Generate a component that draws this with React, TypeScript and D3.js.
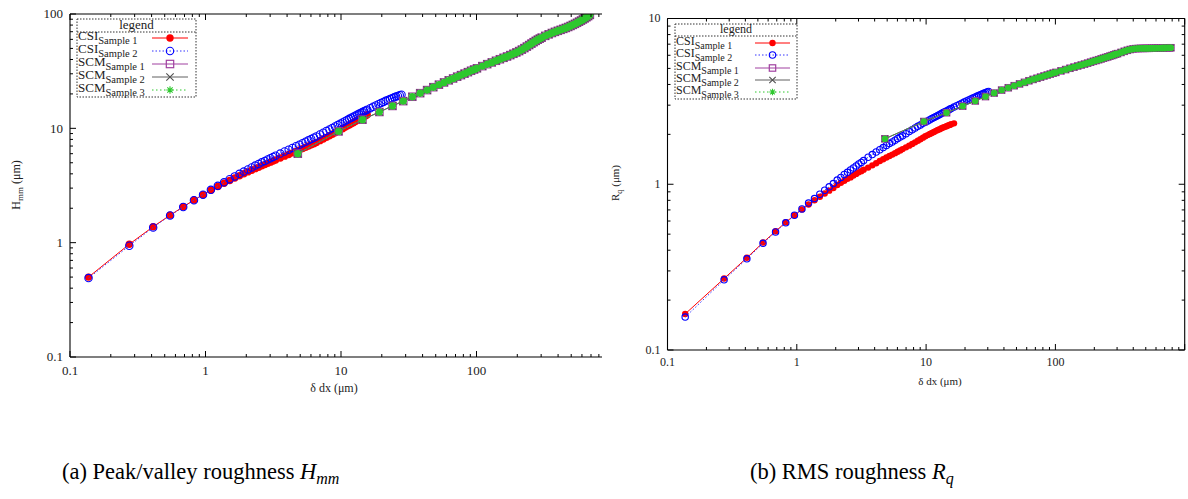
import React from 'react';
import * as d3 from 'd3';

// ---------- DATA ----------
const csiX = [
  0.137, 0.274, 0.411, 0.548, 0.685, 0.822, 0.959, 1.096, 1.233, 1.37,
  1.507, 1.644, 1.781, 1.918, 2.055, 2.192, 2.329, 2.466, 2.603, 2.74,
  2.877, 3.014, 3.151, 3.288,
  3.562, 3.836, 4.11, 4.384, 4.658, 4.932, 5.206, 5.48, 5.754, 6.028, 6.302, 6.576,
  6.987, 7.398, 7.809, 8.22, 8.631, 9.042, 9.453, 9.864, 10.275, 10.686, 11.097, 11.508,
  11.919, 12.33, 12.741, 13.152, 13.563, 13.974, 14.385, 14.796, 15.207, 15.618,
  16.44, 17.262, 18.084, 18.906, 19.728, 20.55, 21.372, 22.194, 23.016, 23.838, 24.66,
  25.482, 26.304, 27.126, 27.948,
  28.77, 29.592, 30.414,
];

const hmmCsi1 = [
  0.50, 0.97, 1.38, 1.74, 2.06, 2.36, 2.63, 2.88, 3.10, 3.31,
  3.50, 3.68, 3.85, 4.01, 4.16, 4.30, 4.44, 4.57, 4.70, 4.82,
  4.94, 5.06, 5.17, 5.28,
  5.50, 5.71, 5.91, 6.10, 6.29, 6.47, 6.65, 6.83, 7.00, 7.17, 7.34, 7.50,
  7.80, 8.07, 8.34, 8.61, 8.88, 9.15, 9.42, 9.68, 9.94, 10.20, 10.46, 10.71,
  10.96, 11.21, 11.46, 11.70, 11.94, 12.18, 12.42, 12.66, 12.90, 13.14,
];

const hmmCsi2 = [
  0.49, 0.94, 1.36, 1.73, 2.05, 2.35, 2.63, 2.90, 3.14, 3.37,
  3.59, 3.80, 4.00, 4.19, 4.37, 4.55, 4.72, 4.88, 5.04, 5.19,
  5.34, 5.48, 5.62, 5.76,
  6.02, 6.27, 6.51, 6.74, 6.97, 7.19, 7.41, 7.64, 7.85, 8.07, 8.28, 8.49,
  8.85, 9.17, 9.48, 9.79, 10.09, 10.39, 10.69, 10.98, 11.27, 11.55, 11.83, 12.10,
  12.37, 12.63, 12.89, 13.14, 13.39, 13.63, 13.87, 14.11, 14.34, 14.57,
  15.02, 15.45, 15.87, 16.27, 16.66, 17.03, 17.39, 17.73, 18.06, 18.37, 18.67,
  18.95, 19.22, 19.47, 19.70,
];

const rqCsi1 = [
  0.165, 0.27, 0.36, 0.445, 0.52, 0.59, 0.65, 0.705, 0.755, 0.80,
  0.84, 0.88, 0.915, 0.95, 0.99, 1.02, 1.05, 1.08, 1.10, 1.13,
  1.155, 1.18, 1.20, 1.225,
  1.26, 1.30, 1.34, 1.38, 1.415, 1.45, 1.48, 1.51, 1.54, 1.57, 1.60, 1.63,
  1.67, 1.71, 1.75, 1.79, 1.83, 1.87, 1.91, 1.95, 1.98, 2.01, 2.04, 2.07,
  2.10, 2.125, 2.15, 2.175, 2.20, 2.22, 2.24, 2.26, 2.28, 2.30,
  2.33,
];

const rqCsi2 = [
  0.158, 0.265, 0.355, 0.44, 0.515, 0.585, 0.65, 0.71, 0.77, 0.82,
  0.87, 0.92, 0.965, 1.01, 1.06, 1.10, 1.145, 1.18, 1.22, 1.255,
  1.29, 1.325, 1.355, 1.39,
  1.455, 1.51, 1.565, 1.615, 1.665, 1.715, 1.76, 1.80, 1.845, 1.885, 1.925, 1.96,
  2.02, 2.08, 2.135, 2.185, 2.235, 2.28, 2.33, 2.37, 2.41, 2.45, 2.49, 2.53,
  2.565, 2.60, 2.635, 2.67, 2.705, 2.74, 2.77, 2.80, 2.83, 2.86,
  2.92, 2.975, 3.03, 3.08, 3.13, 3.18, 3.225, 3.27, 3.31, 3.35, 3.39,
  3.43, 3.465, 3.50, 3.535,
  3.57, 3.60, 3.63,
];

const scmX = [
  4.8, 9.6, 14.4, 19.2, 24, 28.8, 33.6, 38.4, 43.2, 48, 52.8, 57.6, 62.4, 67.2, 72, 76.8,
  81.6, 86.4, 91.2, 96, 100.8,
  110.4, 120, 129.6, 139.2, 148.8, 158.4, 168, 177.6, 187.2, 196.8, 206.4, 216, 225.6,
  235.2, 244.8, 254.4, 264, 273.6, 283.2, 292.8, 302.4,
  321.6, 340.8, 360, 379.2, 398.4, 417.6, 436.8, 456, 475.2, 494.4, 513.6, 532.8, 552,
  571.2, 590.4, 609.6, 628.8, 648, 667.2, 686.4, 705.6, 724.8, 744, 763.2, 782.4,
];

const hmmScm = [
  6.0, 9.4, 11.9, 13.9, 15.7, 17.3, 18.9, 20.3, 21.6, 22.9, 24.1, 25.2, 26.3, 27.3, 28.3, 29.2,
  30.1, 31.0, 31.9, 32.7, 33.5,
  35.0, 36.4, 37.7, 39.0, 40.2, 41.4, 42.5, 43.7, 44.9, 46.1, 47.4, 48.8, 50.3,
  51.9, 53.5, 55.1, 56.7, 58.2, 59.6, 60.9, 62.1,
  64.4, 66.4, 68.2, 69.8, 71.3, 72.7, 74.1, 75.5, 77.0, 78.6, 80.3, 82.0, 83.8,
  85.7, 87.6, 89.6, 91.6, 93.7, 95.9, 98.2,
];

const rqScm = [
  1.88, 2.39, 2.70, 2.96, 3.18, 3.38, 3.55, 3.70, 3.82, 3.93, 4.03, 4.12, 4.21, 4.29, 4.36, 4.43,
  4.50, 4.56, 4.62, 4.68, 4.73,
  4.83, 4.92, 5.01, 5.09, 5.17, 5.24, 5.31, 5.38, 5.45, 5.52, 5.58, 5.64, 5.70,
  5.76, 5.82, 5.87, 5.93, 5.98, 6.04, 6.09, 6.14,
  6.24, 6.34, 6.43, 6.50, 6.55, 6.58, 6.59, 6.60, 6.60, 6.61, 6.61, 6.61, 6.62,
  6.62, 6.62, 6.63, 6.63, 6.63, 6.64, 6.64, 6.64, 6.65, 6.65, 6.65, 6.66,
];

const xMajorTicks = [0.1, 1, 10, 100];
const hmmMajorTicks = [0.1, 1, 10, 100];
const rqMajorTicks = [0.1, 1, 10];

const legendNames = [
  ['CSI', 'Sample 1'],
  ['CSI', 'Sample 2'],
  ['SCM', 'Sample 1'],
  ['SCM', 'Sample 2'],
  ['SCM', 'Sample 3'],
];

// ---------- STYLES ----------
const FONT = "'Liberation Serif', 'Times New Roman', Times, serif";
const styles = [
  { color: '#ff0000', line: '#ff0000', dash: undefined, marker: 'circleFilled' },
  { color: '#0000ff', line: '#3333ff', dash: '1.5,2', marker: 'circleOpen' },
  { color: '#a040a0', line: '#a040a0', dash: undefined, marker: 'square' },
  { color: '#505050', line: '#606060', dash: undefined, marker: 'cross' },
  { color: '#2ec82e', line: '#2ec82e', dash: '1.5,2.5', marker: 'star' },
];

type Pt = [number, number];

function Marker({ kind, cx, cy, s, color, thin }: { kind: string; cx: number; cy: number; s: number; color: string; thin?: boolean }) {
  if (kind === 'circleFilled') return <circle cx={cx} cy={cy} r={s} fill={color} />;
  if (kind === 'circleOpen')
    return <circle cx={cx} cy={cy} r={s} fill="none" stroke={color} strokeWidth={1.1} />;
  if (kind === 'square')
    return <rect x={cx - s} y={cy - s} width={2 * s} height={2 * s} fill="none" stroke={color} strokeWidth={1.2} />;
  if (kind === 'cross')
    return (
      <path
        d={`M${cx - s},${cy - s}L${cx + s},${cy + s}M${cx - s},${cy + s}L${cx + s},${cy - s}`}
        stroke={color}
        strokeWidth={1.1}
        fill="none"
      />
    );
  const d = s * 0.72;
  return (
    <path
      d={`M${cx - s},${cy}L${cx + s},${cy}M${cx},${cy - s}L${cx},${cy + s}M${cx - d},${cy - d}L${cx + d},${cy + d}M${cx - d},${cy + d}L${cx + d},${cy - d}`}
      stroke={color}
      strokeWidth={thin ? 1.1 : 2.2}
      fill="none"
    />
  );
}

type ChartCfg = {
  id: string;
  x0: number;
  x1: number;
  y0: number;
  y1: number;
  yDomain: [number, number];
  yMajor: number[];
  cropRight: number;
  showRight: boolean;
  tickFont: number;
  labelFont: number;
  ms: number;
  series: { xs: number[]; ys: number[] }[];
  yLabelMain: string;
  yLabelSub: string;
  yLabelX: number;
  yLabelY: number;
  xLabelX: number;
  xLabelY: number;
  xTickY: number;
  legend: { x0: number; x1: number; y0: number; y1: number; sep: number; titleY: number; rows: number[]; lx0: number; lx1: number; font: number; sub: number };
};

function Chart({ cfg }: { cfg: ChartCfg }) {
  const x = d3.scaleLog().domain([0.1, 1000]).range([cfg.x0, cfg.x1]);
  const y = d3.scaleLog().domain(cfg.yDomain).range([cfg.y0, cfg.y1]);
  const xTicks = x.ticks();
  const yTicks = y.ticks();
  const isMajor = (v: number) => Math.abs(Math.log10(v) - Math.round(Math.log10(v))) < 1e-6;
  const right = Math.min(cfg.x1, cfg.cropRight);
  const line = d3
    .line<Pt>()
    .x((d) => x(d[0]))
    .y((d) => y(d[1]));
  const L = cfg.legend;
  const fontStyle = { fontFamily: FONT };

  return (
    <g>
      <defs>
        <clipPath id={`crop-${cfg.id}`}>
          <rect x={0} y={0} width={cfg.cropRight} height={499} />
        </clipPath>
        <clipPath id={`plot-${cfg.id}`}>
          <rect x={cfg.x0} y={cfg.y1} width={right - cfg.x0} height={cfg.y0 - cfg.y1} />
        </clipPath>
      </defs>
      <g clipPath={`url(#crop-${cfg.id})`}>
        {/* data */}
        <g clipPath={`url(#plot-${cfg.id})`}>
          {cfg.series.map((s, i) => {
            const pts: Pt[] = s.ys.map((v, j) => [s.xs[j], v]);
            const st = styles[i];
            return (
              <g key={i}>
                <path d={line(pts) || ''} fill="none" stroke={st.line} strokeWidth={1} strokeDasharray={st.dash} />
                {pts.map((p, j) => (
                  <Marker key={j} kind={st.marker} cx={x(p[0])} cy={y(p[1])} s={cfg.ms} color={st.color} />
                ))}
              </g>
            );
          })}
        </g>
        {/* frame */}
        <g stroke="#000" strokeWidth={1.1} fill="none">
          <line x1={cfg.x0} x2={cfg.x1} y1={cfg.y0} y2={cfg.y0} />
          <line x1={cfg.x0} x2={cfg.x1} y1={cfg.y1} y2={cfg.y1} />
          <line x1={cfg.x0} x2={cfg.x0} y1={cfg.y0} y2={cfg.y1} />
          {cfg.showRight && <line x1={cfg.x1} x2={cfg.x1} y1={cfg.y0} y2={cfg.y1} />}
        </g>
        <g stroke="#000" strokeWidth={1}>
          {xTicks.map((t, i) => {
            const len = isMajor(t) ? 6 : 3;
            const px = x(t);
            return (
              <g key={i}>
                <line x1={px} x2={px} y1={cfg.y0} y2={cfg.y0 - len} />
                <line x1={px} x2={px} y1={cfg.y1} y2={cfg.y1 + len} />
              </g>
            );
          })}
          {yTicks.map((t, i) => {
            const len = isMajor(t) ? 6 : 3;
            const py = y(t);
            return (
              <g key={i}>
                <line x1={cfg.x0} x2={cfg.x0 + len} y1={py} y2={py} />
                {cfg.showRight && <line x1={cfg.x1} x2={cfg.x1 - len} y1={py} y2={py} />}
              </g>
            );
          })}
        </g>
        {/* tick labels */}
        <g style={fontStyle} fontSize={cfg.tickFont} fill="#222">
          {xMajorTicks.map((t) => (
            <text key={t} x={x(t)} y={cfg.xTickY} textAnchor="middle" style={fontStyle}>
              {String(t)}
            </text>
          ))}
          {cfg.yMajor.map((t) => (
            <text key={t} x={cfg.x0 - 7} y={y(t) + cfg.tickFont * 0.33} textAnchor="end" style={fontStyle}>
              {String(t)}
            </text>
          ))}
        </g>
        {/* axis labels */}
        <text x={cfg.xLabelX} y={cfg.xLabelY} textAnchor="middle" style={fontStyle} fontSize={cfg.labelFont} fill="#222">
          δ dx (μm)
        </text>
        <text
          transform={`translate(${cfg.yLabelX},${cfg.yLabelY}) rotate(-90)`}
          textAnchor="middle"
          style={fontStyle}
          fontSize={cfg.labelFont}
          fill="#222"
        >
          {cfg.yLabelMain}
          <tspan fontSize={cfg.labelFont * 0.75} dy={3}>
            {cfg.yLabelSub}
          </tspan>
          <tspan dy={-3}> (μm)</tspan>
        </text>
        {/* legend */}
        <g>
          <rect
            x={L.x0}
            y={L.y0}
            width={L.x1 - L.x0}
            height={L.y1 - L.y0}
            fill="none"
            stroke="#333"
            strokeWidth={1}
            strokeDasharray="1.5,1.5"
          />
          <line x1={L.x0} x2={L.x1} y1={L.sep} y2={L.sep} stroke="#333" strokeWidth={1} strokeDasharray="1.5,1.5" />
          <text x={(L.x0 + L.x1) / 2} y={L.titleY} textAnchor="middle" style={fontStyle} fontSize={L.font} fill="#222">
            legend
          </text>
          {legendNames.map((n, i) => {
            const st = styles[i];
            const ry = L.rows[i];
            return (
              <g key={i}>
                <text x={L.x0 + 1} y={ry + 2} style={fontStyle} fontSize={L.font} fill="#222">
                  {n[0]}
                  <tspan fontSize={L.sub} dy={4}>
                    {n[1]}
                  </tspan>
                </text>
                <line x1={L.lx0} x2={L.lx1} y1={ry} y2={ry} stroke={st.line} strokeWidth={1} strokeDasharray={st.dash} />
                <Marker kind={st.marker} cx={(L.lx0 + L.lx1) / 2} cy={ry} s={cfg.ms} color={st.color} thin />
              </g>
            );
          })}
        </g>
      </g>
    </g>
  );
}

const leftCfg: ChartCfg = {
  id: 'a',
  x0: 70,
  x1: 612,
  y0: 357,
  y1: 14,
  yDomain: [0.1, 100],
  yMajor: hmmMajorTicks,
  cropRight: 602,
  showRight: false,
  tickFont: 13,
  labelFont: 12,
  ms: 3.7,
  series: [
    { xs: csiX, ys: hmmCsi1 },
    { xs: csiX, ys: hmmCsi2 },
    { xs: scmX, ys: hmmScm },
    { xs: scmX, ys: hmmScm },
    { xs: scmX, ys: hmmScm },
  ],
  yLabelMain: 'H',
  yLabelSub: 'mm',
  yLabelX: 20,
  yLabelY: 185,
  xLabelX: 334,
  xLabelY: 392,
  xTickY: 375,
  legend: { x0: 77, x1: 196, y0: 19, y1: 97, sep: 32, titleY: 29, rows: [38, 51, 64, 77, 90], lx0: 152, lx1: 188, font: 13, sub: 10.5 },
};

const rightCfg: ChartCfg = {
  id: 'b',
  x0: 667.5,
  x1: 1184.7,
  y0: 350,
  y1: 18.5,
  yDomain: [0.1, 10],
  yMajor: rqMajorTicks,
  cropRight: 1188,
  showRight: true,
  tickFont: 12,
  labelFont: 11,
  ms: 3.2,
  series: [
    { xs: csiX, ys: rqCsi1 },
    { xs: csiX, ys: rqCsi2 },
    { xs: scmX, ys: rqScm },
    { xs: scmX, ys: rqScm },
    { xs: scmX, ys: rqScm },
  ],
  yLabelMain: 'R',
  yLabelSub: 'q',
  yLabelX: 619,
  yLabelY: 183,
  xLabelX: 940,
  xLabelY: 385,
  xTickY: 366,
  legend: { x0: 675, x1: 797, y0: 24, y1: 99, sep: 36, titleY: 33, rows: [43, 55, 68, 80, 92], lx0: 755, lx1: 790, font: 12, sub: 10 },
};

export default function App() {
  return (
    <svg
      width={1188}
      height={499}
      viewBox="0 0 1188 499"
      style={{ position: 'absolute', left: 0, top: 0, background: '#fff', display: 'block', fontFamily: FONT }}
    >
      <rect x={0} y={0} width={1188} height={499} fill="#fff" />
      <Chart cfg={leftCfg} />
      <Chart cfg={rightCfg} />
      <text x={62} y={479} style={{ fontFamily: FONT }} fontSize={22.5} fill="#000">
        (a) Peak/valley roughness{' '}
        <tspan fontStyle="italic">H</tspan>
        <tspan fontStyle="italic" fontSize={16} dy={5}>
          mm
        </tspan>
      </text>
      <text x={750} y={479} style={{ fontFamily: FONT }} fontSize={22.5} fill="#000">
        (b) RMS roughness{' '}
        <tspan fontStyle="italic">R</tspan>
        <tspan fontStyle="italic" fontSize={16} dy={5}>
          q
        </tspan>
      </text>
    </svg>
  );
}
